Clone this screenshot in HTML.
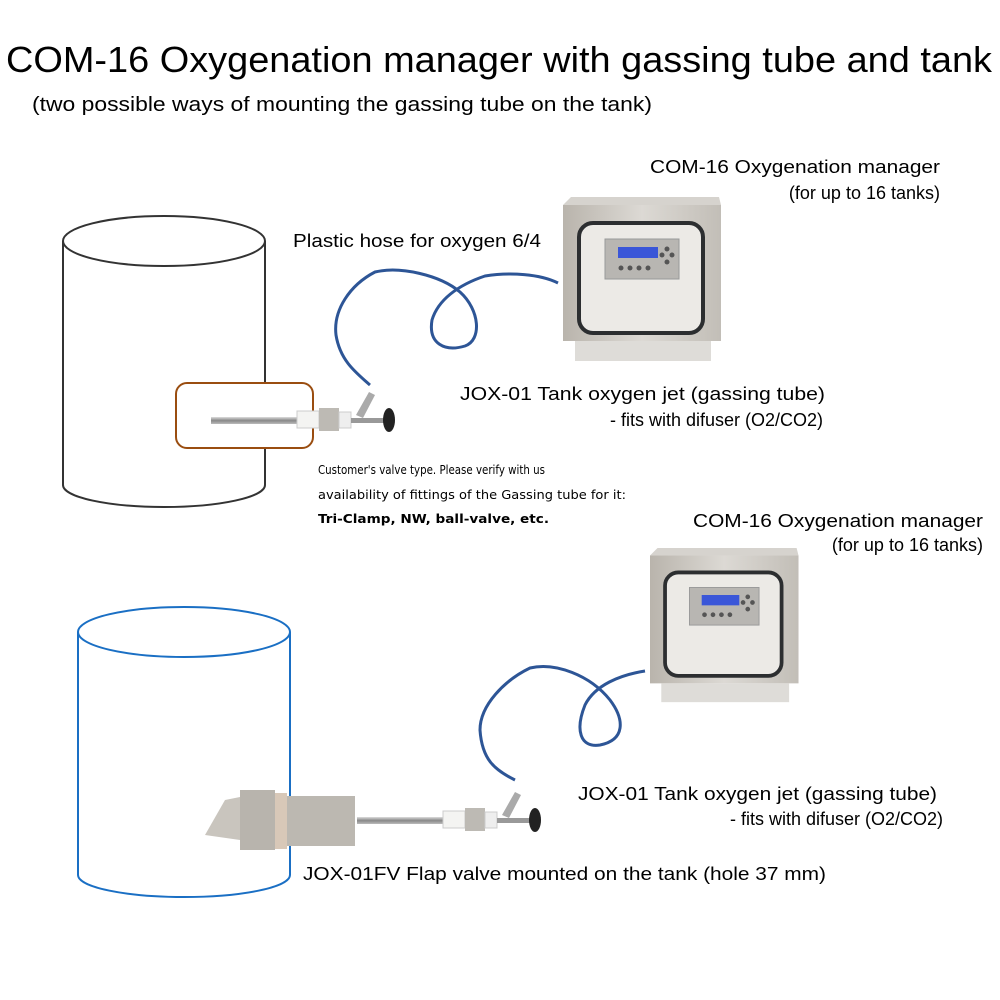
<!DOCTYPE html>
<html><head><meta charset="utf-8"><style>
html,body{margin:0;padding:0;background:#fff;}
svg{display:block}
text{font-family:"Liberation Sans",sans-serif;fill:#000}
.c{font-family:"DejaVu Sans","Liberation Sans",sans-serif}
</style></head><body>
<svg width="1000" height="1000" viewBox="0 0 1000 1000" xmlns="http://www.w3.org/2000/svg">
<defs>
<linearGradient id="steel" x1="0" x2="1"><stop offset="0" stop-color="#b9b4ac"/><stop offset="0.5" stop-color="#dcd9d4"/><stop offset="1" stop-color="#c2beb7"/></linearGradient>
<linearGradient id="rod" x1="0" y1="0" x2="0" y2="1"><stop offset="0" stop-color="#ddd"/><stop offset="0.5" stop-color="#888"/><stop offset="1" stop-color="#bbb"/></linearGradient>
<g id="box">
  <polygon points="0,8 8,0 156,0 158,8" fill="#d6d3ce"/>
  <rect x="0" y="8" width="158" height="136" fill="url(#steel)"/>
  <rect x="12" y="144" width="136" height="20" fill="#dedcd8"/>
  <rect x="16" y="26" width="124" height="110" rx="14" fill="#eceae6" stroke="#2c2e30" stroke-width="4"/>
  <rect x="42" y="42" width="74" height="40" fill="#b8b6b2" stroke="#999"/>
  <rect x="55" y="50" width="40" height="11" fill="#3a56d8"/>
  <circle cx="58" cy="71" r="2.5" fill="#555"/><circle cx="67" cy="71" r="2.5" fill="#555"/><circle cx="76" cy="71" r="2.5" fill="#555"/><circle cx="85" cy="71" r="2.5" fill="#555"/>
  <circle cx="104" cy="52" r="2.5" fill="#555"/><circle cx="99" cy="58" r="2.5" fill="#555"/><circle cx="109" cy="58" r="2.5" fill="#555"/><circle cx="104" cy="65" r="2.5" fill="#555"/>
</g>
<g id="jet">
  <rect x="0" y="-3" width="88" height="7" fill="url(#rod)"/>
  <rect x="86" y="-9" width="22" height="17" fill="#f4f4f2" stroke="#ccc"/>
  <rect x="108" y="-12" width="20" height="23" fill="#bdbab4"/>
  <rect x="128" y="-8" width="12" height="16" fill="#eee" stroke="#ccc"/>
  <rect x="140" y="-2" width="35" height="5" fill="#999"/>
  <polygon points="145,-5 158,-28 164,-25 152,-2" fill="#aaa"/>
  <ellipse cx="178" cy="0" rx="6" ry="12" fill="#222"/>
</g>
</defs>

<text x="6" y="72" font-size="36" textLength="986" lengthAdjust="spacingAndGlyphs">COM-16 Oxygenation manager with gassing tube and tank</text>
<text x="32" y="111" font-size="20" textLength="620" lengthAdjust="spacingAndGlyphs">(two possible ways of mounting the gassing tube on the tank)</text>

<g fill="none" stroke="#333" stroke-width="2">
<ellipse cx="164" cy="241" rx="101" ry="25"/>
<path d="M63 241 V485 A101 22 0 0 0 265 485 V241"/>
</g>
<rect x="176" y="383" width="137" height="65" rx="11" fill="#fff" stroke="#9a4d10" stroke-width="2"/>
<use href="#jet" x="211" y="420"/>

<path d="M370 385 C355 372 340 360 336 335 C333 310 350 285 375 272 C400 266 440 275 460 292 C480 310 482 340 465 346 C445 352 428 344 432 320 C438 300 458 285 485 276 C510 272 540 274 558 283" fill="none" stroke="#2d5596" stroke-width="3"/>
<use href="#box" x="563" y="197"/>

<text x="650" y="173" font-size="18" textLength="290" lengthAdjust="spacingAndGlyphs">COM-16 Oxygenation manager</text>
<text x="940" y="199" font-size="18" text-anchor="end">(for up to 16 tanks)</text>
<text x="293" y="247" font-size="18" textLength="248" lengthAdjust="spacingAndGlyphs">Plastic hose for oxygen 6/4</text>
<text x="460" y="400" font-size="18" textLength="365" lengthAdjust="spacingAndGlyphs">JOX-01 Tank oxygen jet (gassing tube)</text>
<text x="823" y="426" font-size="18" text-anchor="end">- fits with difuser (O2/CO2)</text>
<text class="c" x="318" y="474" font-size="12.5" textLength="227" lengthAdjust="spacingAndGlyphs">Customer's valve type. Please verify with us</text>
<text class="c" x="318" y="499" font-size="12.5" textLength="308" lengthAdjust="spacingAndGlyphs">availability of fittings of the Gassing tube for it:</text>
<text class="c" x="318" y="523" font-size="12.5" font-weight="bold" textLength="231" lengthAdjust="spacingAndGlyphs">Tri-Clamp, NW, ball-valve, etc.</text>

<g fill="none" stroke="#1a6fc4" stroke-width="2">
<ellipse cx="184" cy="632" rx="106" ry="25"/>
<path d="M78 632 V875 A106 22 0 0 0 290 875 V632"/>
</g>
<polygon points="205,835 225,800 250,795 262,835 240,840" fill="#c9c5be"/>
<rect x="240" y="790" width="35" height="60" fill="#b8b4ad"/>
<rect x="275" y="793" width="12" height="56" fill="#d8c8b8"/>
<rect x="287" y="796" width="68" height="50" fill="#bcb8b1"/>
<use href="#jet" x="357" y="820"/>
<path d="M515 780 C495 770 482 760 480 730 C480 705 505 680 530 668 C555 662 590 675 610 700 C625 720 625 740 600 745 C580 748 575 730 585 705 C595 685 620 675 645 671" fill="none" stroke="#2d5596" stroke-width="3"/>
<use href="#box" x="650" y="548" transform="translate(650 548) scale(0.94) translate(-650 -548)"/>

<text x="693" y="527" font-size="18" textLength="290" lengthAdjust="spacingAndGlyphs">COM-16 Oxygenation manager</text>
<text x="983" y="551" font-size="18" text-anchor="end">(for up to 16 tanks)</text>
<text x="578" y="800" font-size="18" textLength="359" lengthAdjust="spacingAndGlyphs">JOX-01 Tank oxygen jet (gassing tube)</text>
<text x="943" y="825" font-size="18" text-anchor="end">- fits with difuser (O2/CO2)</text>
<text x="303" y="880" font-size="18" textLength="523" lengthAdjust="spacingAndGlyphs">JOX-01FV Flap valve mounted on the tank (hole 37 mm)</text>
</svg>
</body></html>
